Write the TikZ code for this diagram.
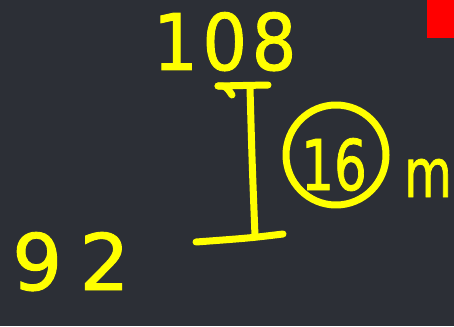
\documentclass[tikz,border=0pt]{standalone}
\usepackage{fontspec}
\setmainfont{DejaVu Sans}
\newfontfamily\handfont{DejaVu Sans Condensed}[FakeBold=1.2]
\definecolor{board}{RGB}{44,47,54}
\definecolor{ink}{RGB}{255,255,0}
\definecolor{tag}{RGB}{255,0,0}
\begin{document}
\begin{tikzpicture}[x=1pt,y=-1pt,
  hand/.style={text=ink,inner sep=0pt,font=\handfont\fontsize{78}{78}\selectfont},
  stroke/.style={draw=ink,line width=7pt,line cap=round,line join=round}]
\useasboundingbox (0,0) rectangle (454,326);
\fill[board] (0,0) rectangle (454,326);
\fill[tag] (427,0) rectangle (454,38);
% texts
\node[hand,anchor=base west] (t108) at (153,70) {\addfontfeature{LetterSpace=6}108};
\node[hand,anchor=base west,font=\handfont\fontsize{70}{70}\selectfont,xscale=0.82] (t16) at (301,190) {16};
\node[hand,anchor=base west,font=\handfont\fontsize{68}{68}\selectfont,xscale=0.8] (tm) at (404,197) {m};
\node[hand,anchor=base west,xscale=1.12] (t92) at (12,290) {\addfontfeature{LetterSpace=20}92};
% circle around 16
\node[stroke,circle,minimum size=100pt,inner sep=0pt] (ring) at (336,155) {};
% I-bar
\coordinate (tl) at (218,86);
\coordinate (tr) at (268,85);
\coordinate (th) at (232,95);
\coordinate (vt) at (250,88);
\coordinate (vb) at (255,236);
\coordinate (bl) at (196,242);
\coordinate (br) at (283,234);
\draw[stroke] (tl) -- (tr);
\draw[stroke] (tl) .. controls (226,86) .. (th);
\draw[stroke] (vt) .. controls (252,160) .. (vb);
\draw[stroke] (bl) .. controls (250,238) .. (br);
\end{tikzpicture}
\end{document}
